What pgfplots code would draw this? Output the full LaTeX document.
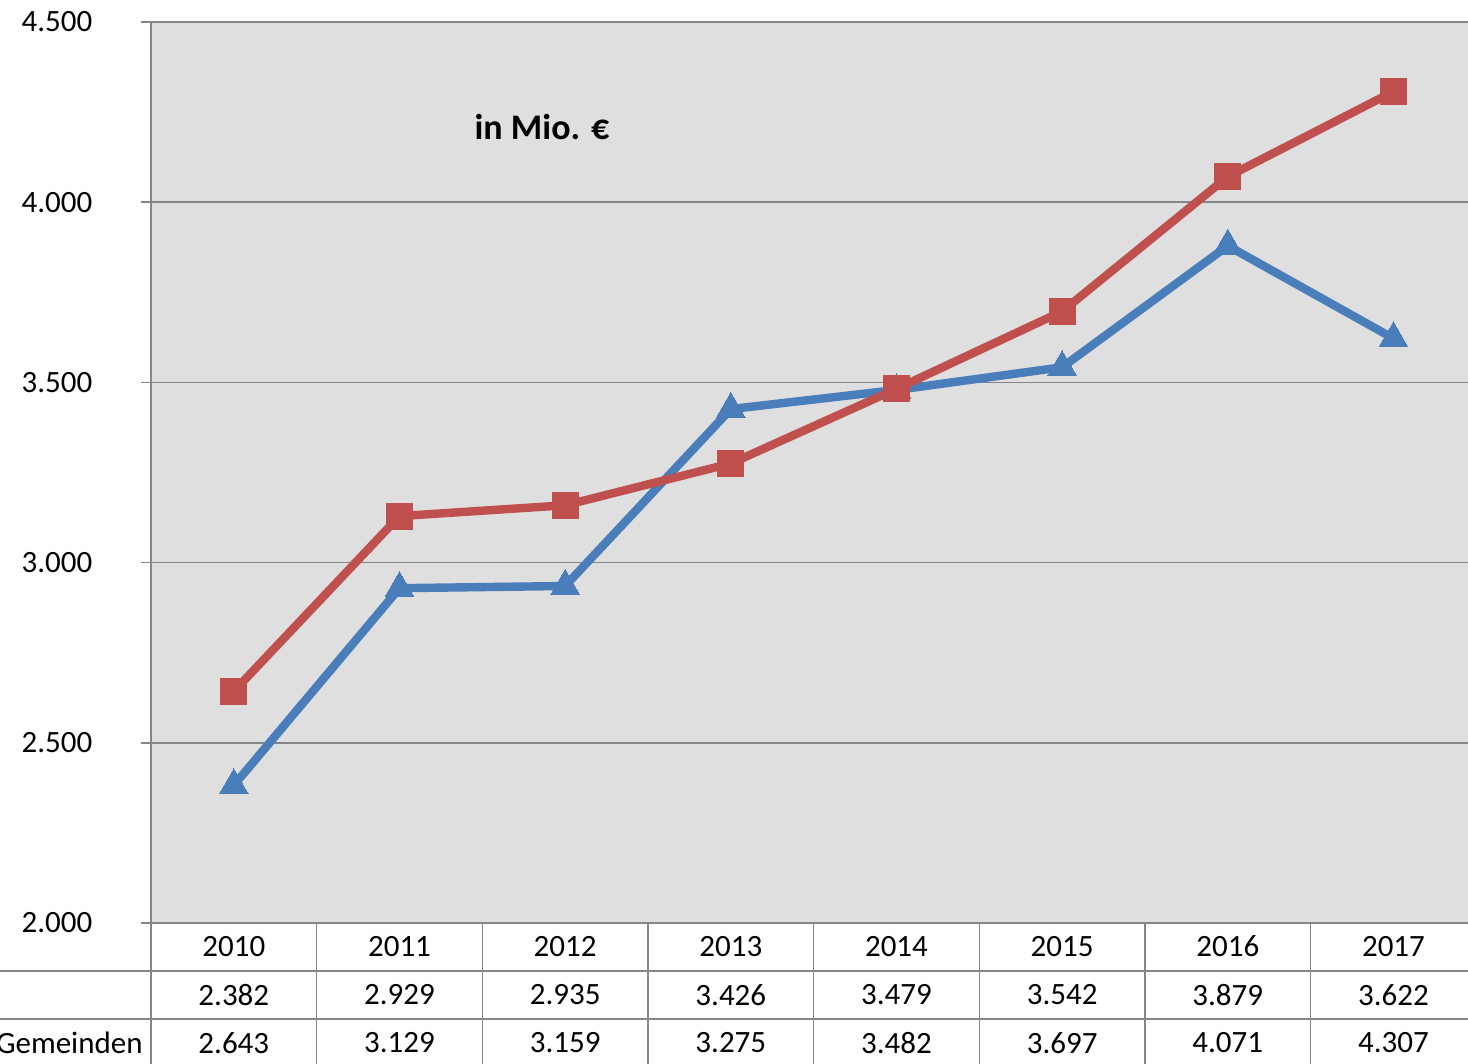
\documentclass[border=0pt]{standalone}
\usepackage{fontspec}
\setmainfont{Carlito}
\usepackage{pgfplots}
\pgfplotsset{compat=1.18}
\usepackage{pgfplotstable}
\definecolor{serBlue}{RGB}{74,126,187}
\definecolor{serRed}{RGB}{192,80,77}
\definecolor{gridc}{RGB}{134,134,134}
\definecolor{bgc}{RGB}{223,223,223}
\pgfplotstableread{
x a b
0 2382 2643
1 2929 3129
2 2935 3159
3 3426 3275
4 3479 3482
5 3542 3697
6 3879 4071
7 3622 4307
}\data
\begin{document}
\fontsize{15.5}{18}\selectfont
\begin{tikzpicture}
\pgfkeys{/pgf/number format/.cd, assume math mode=true, fixed, 1000 sep={.}}
\begin{axis}[
  at={(0,0)}, anchor=south west,
  scale only axis, width=658.5pt, height=450.5pt,
  xmin=-0.5, xmax=7.45, ymin=2000, ymax=4500,
  xtick={0,...,7}, xticklabels={2010,2011,2012,2013,2014,2015,2016,2017},
  xticklabel style={anchor=center, text height=9.8pt, text depth=0pt, yshift=-7pt},
  ytick={2000,2500,...,4500},
  yticklabel style={anchor=center, xshift=-42pt},
  /pgf/number format/assume math mode=true,
  /pgf/number format/1000 sep={.},
  scaled y ticks=false,
  tick align=outside, major tick length=5pt,
  x tick style={draw=none},
  y tick style={gridc, line width=0.8pt},
  axis lines*=left,
  axis line style={gridc, line width=0.8pt},
  ymajorgrids, grid style={gridc, line width=0.8pt},
  axis background/.style={fill=bgc},
  tick label style={font=\fontsize{15.5}{18}\selectfont},
  clip=false,
]
\addplot[serBlue, line width=4.2pt, mark=triangle*, mark size=8.3pt, mark options={solid, fill=serBlue, line width=0pt}] table[x=x, y=a] {\data};
\addplot[serRed, line width=4.2pt, mark=square*, mark size=6.5pt, mark options={solid, fill=serRed, line width=0pt}] table[x=x, y=b] {\data};
\node[font=\bfseries\fontsize{18}{21}\selectfont] at (axis cs:1.86,4209) {in Mio. €};
\end{axis}
\draw[gridc, line width=0.8pt] (-80pt,-24pt) -- (660pt,-24pt);
\draw[gridc, line width=0.8pt] (-80pt,-48pt) -- (660pt,-48pt);
\foreach \k in {0,...,7} {
  \draw[gridc, line width=0.8pt] ({\k*82.83pt},0pt) -- ({\k*82.83pt},-75pt);
}
\foreach \i in {0,...,7} {
  \pgfplotstablegetelem{\i}{a}\of\data \let\va\pgfplotsretval
  \node at ({(\i+0.5)*82.83pt},-36pt) {\pgfmathprintnumber{\va}};
  \pgfplotstablegetelem{\i}{b}\of\data \let\vb\pgfplotsretval
  \node at ({(\i+0.5)*82.83pt},-60pt) {\pgfmathprintnumber{\vb}};
}
\node[anchor=east, inner sep=0pt] at (-4pt,-60pt) {Gemeinden};
\pgfresetboundingbox
\path (-75.5pt,-70.5pt) rectangle (658.5pt,461.5pt);
\end{tikzpicture}
\end{document}
